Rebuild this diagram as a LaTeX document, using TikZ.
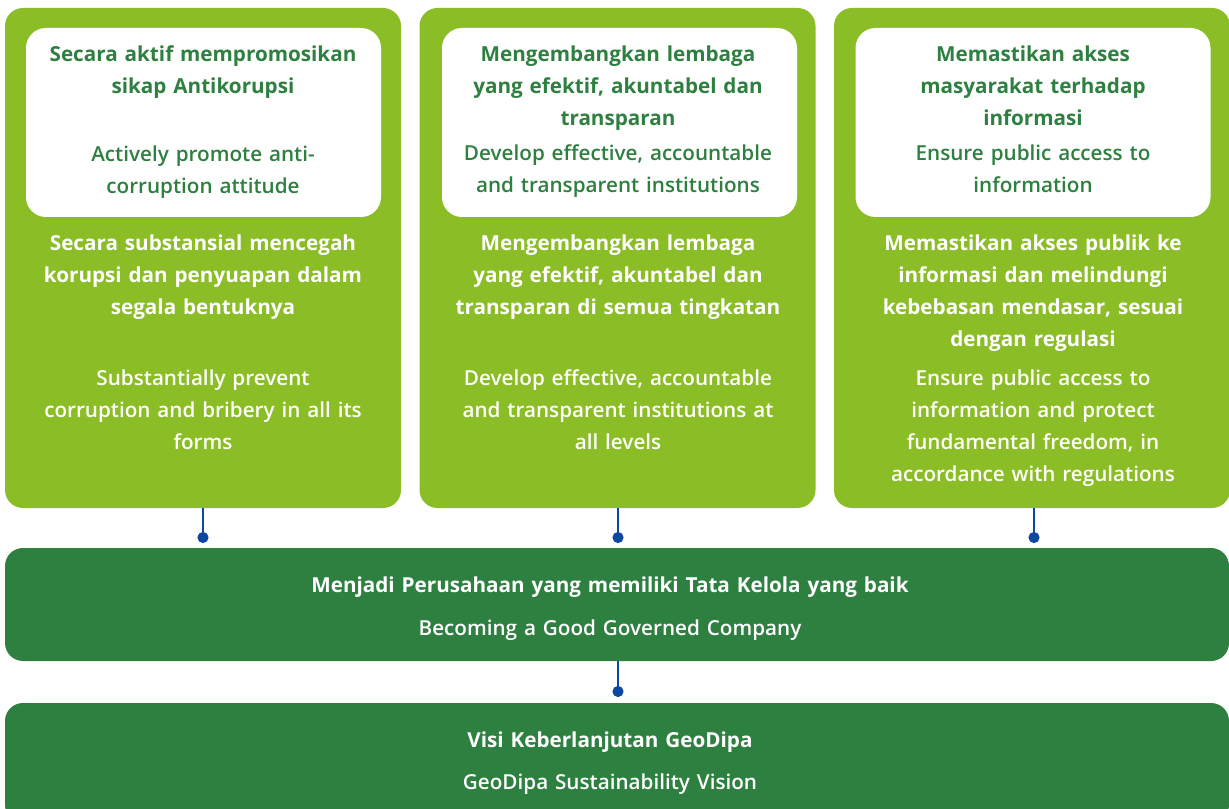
\documentclass[tikz,border=0pt]{standalone}
\usepackage{fontspec}
\setmainfont{Open Sans}
\IfFontExistsTF{Open Sans SemiBold}{\newfontfamily\semibold{Open Sans SemiBold}}{%
  \IfFontExistsTF{Open Sans Semibold}{\newfontfamily\semibold{Open Sans Semibold}}{%
    \IfFontExistsTF{OpenSans-SemiBold}{\newfontfamily\semibold{OpenSans-SemiBold}}{%
      \newfontfamily\semibold{Open Sans}[FakeBold=1.3, LetterSpace=2]}}}
\usetikzlibrary{arrows.meta, positioning}
\definecolor{lgreen}{RGB}{139,189,38}
\definecolor{dgreen}{RGB}{46,128,64}
\definecolor{dotblue}{RGB}{13,71,161}

\begin{document}
\begin{tikzpicture}[x=0.75pt, y=-0.75pt,
    colbox/.style={fill=lgreen, rounded corners=13.5pt, minimum width=297pt, minimum height=375pt, inner sep=0pt},
    whitebox/.style={fill=white, rounded corners=15pt, minimum width=266.25pt, minimum height=141.75pt, inner sep=0pt},
    barbox/.style={fill=dgreen, rounded corners=13.5pt, minimum width=918pt, inner sep=0pt},
    txt/.style={anchor=base, align=center, text width=280pt, inner sep=0pt, font=\fontsize{15.5pt}{24pt}\selectfont},
    ind/.style={txt, font=\fontsize{15.5pt}{24pt}\selectfont\bfseries},
    eng/.style={txt, font=\fontsize{15.5pt}{24pt}\selectfont\semibold},
    link/.style={draw=dotblue, line width=1.7pt, -{Circle[length=8.25pt, width=8.25pt]}}
]
\clip (0,0) rectangle (1229,809);
\fill[white] (0,0) rectangle (1229,809);

\node[colbox] (col1) at (203,258) {};
\node[colbox] (col2) at (617.5,258) {};
\node[colbox] (col3) at (1032,258) {};
\node[whitebox] (box1) at (203.5,122.5) {};
\node[whitebox] (box2) at (619.5,122.5) {};
\node[whitebox] (box3) at (1033,122.5) {};
\node[barbox, minimum height=84.75pt] (bar) at (617,604.5) {};
\node[barbox, minimum height=90pt] (vision) at (617,763) {};

\node[ind, text=dgreen] (t1) at (203,62) {Secara aktif mempromosikan\\sikap Antikorupsi};
\node[eng, text=dgreen] (e1) at (203,162) {Actively promote anti-\\corruption attitude};
\node[ind, text=dgreen] (t2) at (618,62) {Mengembangkan lembaga\\yang efektif, akuntabel dan\\transparan};
\node[eng, text=dgreen] (e2) at (618,161) {Develop effective, accountable\\and transparent institutions};
\node[ind, text=dgreen] (t3) at (1033,62) {Memastikan akses\\masyarakat terhadap\\informasi};
\node[eng, text=dgreen] (e3) at (1033,161) {Ensure public access to\\information};

\node[ind, text=white] (s1) at (203,251) {Secara substansial mencegah\\korupsi dan penyuapan dalam\\segala bentuknya};
\node[eng, text=white] (f1) at (203,386) {Substantially prevent\\corruption and bribery in all its\\forms};
\node[ind, text=white] (s2) at (618,251) {Mengembangkan lembaga\\yang efektif, akuntabel dan\\transparan di semua tingkatan};
\node[eng, text=white] (f2) at (618,386) {Develop effective, accountable\\and transparent institutions at\\all levels};
\node[ind, text=white] (s3) at (1033,251) {Memastikan akses publik ke\\informasi dan melindungi\\kebebasan mendasar, sesuai\\dengan regulasi};
\node[eng, text=white] (f3) at (1033,386) {Ensure public access to\\information and protect\\fundamental freedom, in\\accordance with regulations};

\node[ind, text=white, text width=700pt] (m1) at (610,592) {Menjadi Perusahaan yang memiliki Tata Kelola yang baik};
\node[eng, text=white, text width=700pt] (m2) at (610,635) {Becoming a Good Governed Company};
\node[ind, text=white, text width=700pt] (v1) at (610,747) {Visi Keberlanjutan GeoDipa};
\node[eng, text=white, text width=700pt] (v2) at (610,789) {GeoDipa Sustainability Vision};

\coordinate (d1) at (203,543);
\coordinate (d2) at (618,543);
\coordinate (d3) at (1034,543);
\coordinate (d4) at (618,697);
\draw[link] (col1.south -| d1) -- (d1);
\draw[link] (col2.south -| d2) -- (d2);
\draw[link] (col3.south -| d3) -- (d3);
\draw[link] (bar.south -| d4) -- (d4);
\end{tikzpicture}
\end{document}
